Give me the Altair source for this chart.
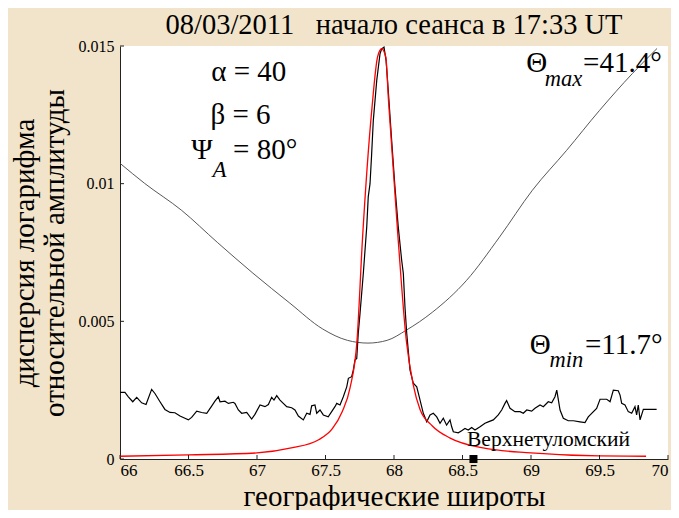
import altair as alt
import pandas as pd

# ---- data ----
theta_lat = [66.0, 66.18, 66.45, 66.71, 66.97, 67.24, 67.48, 67.66, 67.81, 67.95,
             68.09, 68.28, 68.53, 68.77, 69.01, 69.26, 69.50, 69.74, 69.92]
theta_val = [0.01074, 0.01001, 0.00903, 0.00787, 0.00675, 0.00566, 0.00472, 0.00431,
             0.00421, 0.00431, 0.00468, 0.00533, 0.00649, 0.00806, 0.00976, 0.01121,
             0.01266, 0.01400, 0.01491]

model_lat = [66.0, 66.5, 67.0, 67.25, 67.45, 67.55, 67.62, 67.68, 67.73, 67.77, 67.84,
             67.88, 67.91, 67.94, 67.96, 68.03, 68.09, 68.14, 68.19, 68.28, 68.41,
             68.65, 69.0, 69.5, 69.84]
model_val = [0.0001, 0.00015, 0.00022, 0.0004, 0.0007, 0.0011, 0.0017, 0.0026, 0.0043,
             0.0080, 0.0128, 0.0146, 0.0149, 0.0146, 0.0130, 0.0080, 0.0043, 0.0027,
             0.0018, 0.0012, 0.00076, 0.0004, 0.00022, 0.00011, 0.0001]

meas_lat = [66.000, 66.036, 66.061, 66.093, 66.122, 66.158, 66.190, 66.231, 66.255, 66.292,
            66.328, 66.365, 66.401, 66.438, 66.474, 66.499, 66.523, 66.560, 66.596, 66.633,
            66.669, 66.693, 66.718, 66.730, 66.766, 66.791, 66.827, 66.839, 66.864, 66.888,
            66.925, 66.961, 66.985, 67.022, 67.058, 67.083, 67.107, 67.124, 67.144, 67.168,
            67.192, 67.217, 67.253, 67.277, 67.302, 67.338, 67.363, 67.387, 67.399, 67.423,
            67.436, 67.460, 67.484, 67.520, 67.545, 67.569, 67.582, 67.606, 67.630, 67.655,
            67.667, 67.691, 67.703, 67.715, 67.728, 67.739, 67.752, 67.776, 67.801, 67.812,
            67.825, 67.837, 67.849, 67.874, 67.898, 67.910, 67.927, 67.942, 67.958, 67.983,
            68.007, 68.031, 68.056, 68.068, 68.080, 68.093, 68.117, 68.141, 68.166, 68.178,
            68.214, 68.239, 68.263, 68.287, 68.312, 68.336, 68.360, 68.384, 68.409, 68.421,
            68.433, 68.469, 68.494, 68.518, 68.542, 68.567, 68.591, 68.628, 68.664, 68.688,
            68.725, 68.761, 68.786, 68.810, 68.822, 68.847, 68.883, 68.920, 68.944, 68.969,
            69.005, 69.029, 69.066, 69.090, 69.126, 69.151, 69.175, 69.188, 69.212, 69.236,
            69.272, 69.309, 69.358, 69.394, 69.418, 69.443, 69.479, 69.504, 69.553, 69.577,
            69.601, 69.637, 69.650, 69.662, 69.686, 69.710, 69.735, 69.759, 69.771, 69.783,
            69.796, 69.820, 69.917]
meas_val = [0.00242, 0.00242, 0.00226, 0.00208, 0.00224, 0.00204, 0.00198, 0.00253, 0.00238, 0.00208,
            0.00180, 0.00169, 0.00168, 0.00156, 0.00148, 0.00142, 0.00151, 0.00174, 0.00169, 0.00166,
            0.00192, 0.00210, 0.00226, 0.00208, 0.00210, 0.00202, 0.00206, 0.00202, 0.00178, 0.00166,
            0.00169, 0.00145, 0.00162, 0.00196, 0.00190, 0.00198, 0.00224, 0.00214, 0.00230, 0.00214,
            0.00202, 0.00190, 0.00186, 0.00178, 0.00156, 0.00142, 0.00166, 0.00162, 0.00193, 0.00196,
            0.00166, 0.00178, 0.00160, 0.00153, 0.00172, 0.00190, 0.00202, 0.00196, 0.00226, 0.00262,
            0.00293, 0.00299, 0.00323, 0.00359, 0.00365, 0.00456, 0.00529, 0.00674, 0.00843, 0.00952,
            0.01000, 0.01109, 0.01230, 0.01375, 0.01472, 0.01490, 0.01496, 0.01448, 0.01339, 0.01157,
            0.00988, 0.00843, 0.00722, 0.00674, 0.00553, 0.00456, 0.00323, 0.00275, 0.00262, 0.00238,
            0.00166, 0.00135, 0.00160, 0.00166, 0.00153, 0.00130, 0.00148, 0.00123, 0.00142, 0.00117,
            0.00099, 0.00095, 0.00103, 0.00111, 0.00105, 0.00114, 0.00105, 0.00117, 0.00130, 0.00135,
            0.00142, 0.00160, 0.00178, 0.00202, 0.00212, 0.00184, 0.00172, 0.00172, 0.00166, 0.00178,
            0.00174, 0.00184, 0.00196, 0.00190, 0.00208, 0.00204, 0.00226, 0.00250, 0.00178, 0.00148,
            0.00139, 0.00139, 0.00135, 0.00132, 0.00153, 0.00166, 0.00184, 0.00217, 0.00217, 0.00208,
            0.00250, 0.00248, 0.00232, 0.00202, 0.00196, 0.00172, 0.00166, 0.00190, 0.00160, 0.00196,
            0.00142, 0.00180, 0.00180]

x_ticks = [66, 66.5, 67, 67.5, 68, 68.5, 69, 69.5, 70]
y_ticks = [0, 0.005, 0.01, 0.015]
station_lat = 68.58
station_name = "Верхнетуломский"

title_text = "08/03/2011\u00a0\u00a0\u00a0начало сеанса в 17:33 UT"
x_title = "географические широты"
y_title = ["дисперсия логарифма", "относительной амплитуды"]

# ---- chart ----
W, H = 548, 413
FONT = "Liberation Serif, Times New Roman, serif"
xs = alt.Scale(domain=[66, 70], nice=False, zero=False)
ys = alt.Scale(domain=[0, 0.015], nice=False, zero=False)

theta_df = pd.DataFrame({"lat": theta_lat, "val": theta_val})
model_df = pd.DataFrame({"lat": model_lat, "val": model_val})
meas_df = pd.DataFrame({"lat": meas_lat, "val": meas_val})

x_axis = alt.Axis(values=x_ticks, format="~g", ticks=False, grid=False,
                  labelFont=FONT, labelFontSize=17, labelColor="black", labelPadding=3,
                  domainColor="#222", domainWidth=1,
                  title=x_title, titleFont=FONT, titleFontSize=29, titleFontWeight="normal",
                  titleColor="black", titleBaseline="middle", titleY=37, titleX=W / 2)
y_axis = alt.Axis(values=y_ticks, format="~g", ticks=False, grid=False,
                  labelFont=FONT, labelFontSize=16, labelColor="black", labelPadding=6,
                  domainColor="#222", domainWidth=1,
                  title=y_title, titleFont=FONT, titleFontSize=29, titleFontWeight="normal",
                  titleColor="black", titleAngle=270, titleBaseline="middle",
                  titleAlign="center", titleX=-96, titleY=H / 2, titleLineHeight=30)

theta_line = alt.Chart(theta_df).mark_line(color="#444", strokeWidth=0.9, interpolate="monotone").encode(
    x=alt.X("lat:Q", scale=xs, axis=x_axis),
    y=alt.Y("val:Q", scale=ys, axis=y_axis),
)
meas_line = alt.Chart(meas_df).mark_line(color="black", strokeWidth=1.2).encode(
    x=alt.X("lat:Q", scale=xs), y=alt.Y("val:Q", scale=ys))
model_line = alt.Chart(model_df).mark_line(color="#FF0000", strokeWidth=1.3, interpolate="monotone").encode(
    x=alt.X("lat:Q", scale=xs), y=alt.Y("val:Q", scale=ys))

xt = alt.Chart(pd.DataFrame({"t": x_ticks})).mark_rule(color="#222", strokeWidth=1).encode(
    x=alt.X("t:Q", scale=xs), y=alt.value(H), y2=alt.value(H - 4))
yt = alt.Chart(pd.DataFrame({"t": y_ticks})).mark_rule(color="#222", strokeWidth=1).encode(
    y=alt.Y("t:Q", scale=ys), x=alt.value(0), x2=alt.value(4))

one = pd.DataFrame({"a": [0]})


def txt(s, x, y, size=29, style="normal", align="left"):
    return alt.Chart(one).mark_text(text=s, font=FONT, fontSize=size, fontStyle=style,
                                    align=align, baseline="middle", color="black").encode(
        x=alt.datum(x), y=alt.datum(y))


notes = [
    txt("α = 40", 66.94, 0.01404, align="center"),
    txt("β = 6", 66.88, 0.01248, align="center"),
    txt("Ψ", 66.52, 0.01121),
    txt("A", 66.675, 0.01050, size=23, style="italic"),
    txt("= 80°", 66.825, 0.01121),
    txt("Θ", 68.965, 0.01437),
    txt("max", 69.10, 0.01380, size=22.5, style="italic"),
    txt("=41.4°", 69.38, 0.01437),
    txt("Θ", 68.99, 0.00414),
    txt("min", 69.135, 0.00360, size=22.5, style="italic"),
    txt("=11.7°", 69.394, 0.00414),
    txt(station_name, 68.533, 0.00069, size=21.5),
]

title_mark = alt.Chart(one).mark_text(text=title_text, font=FONT, fontSize=28.5, align="center",
                                      baseline="middle", color="black").encode(
    x=alt.value(W / 2), y=alt.value(-21))

station = alt.Chart(one).mark_square(size=64, color="black", opacity=1, clip=False).encode(
    x=alt.datum(station_lat), y=alt.datum(0))

chart = alt.layer(theta_line, meas_line, model_line, xt, yt, *notes, station, title_mark).properties(
    width=W, height=H,
    padding={"left": 112, "top": 38, "right": 3, "bottom": 51},
    autosize="none",
    background="#F2E4CA",
).configure_view(fill="white", stroke=None)

chart.save("out.html", embed_options={"renderer": "svg", "actions": False})
